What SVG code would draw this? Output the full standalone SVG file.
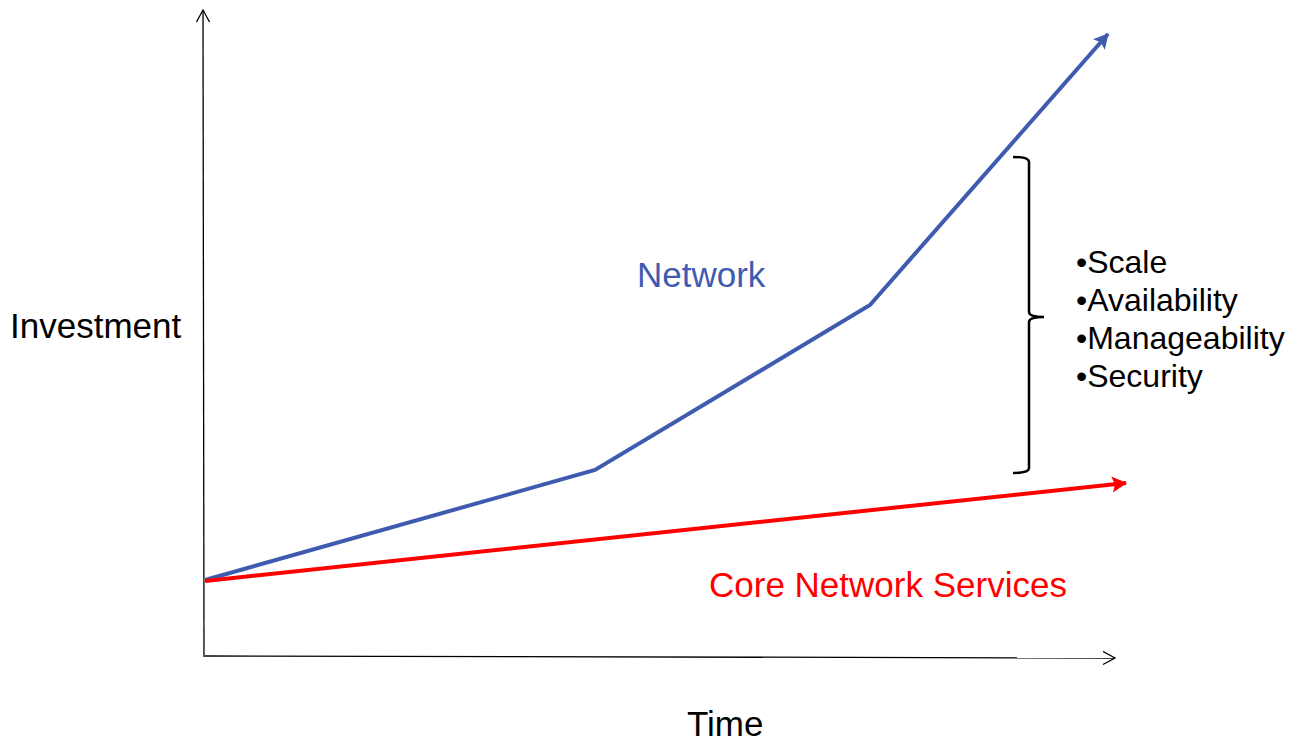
<svg xmlns="http://www.w3.org/2000/svg" width="1298" height="742" viewBox="0 0 1298 742">
<style>
text{font-family:"Liberation Sans",Arial,sans-serif}
.lbl{font-size:35px;fill:#000}
.blt{font-size:32px;fill:#000}
.axis{stroke:#000;stroke-width:1.3;fill:none}
</style>
<defs>
<marker id="openArr" markerWidth="16" markerHeight="16" refX="13" refY="7" orient="auto" markerUnits="userSpaceOnUse">
<path d="M1,0.5 L13,7 L1,13.5" fill="none" stroke="#000" stroke-width="1.3"/>
</marker>
<marker id="blueArr" markerWidth="20" markerHeight="20" refX="14" refY="8" orient="auto" markerUnits="userSpaceOnUse">
<path d="M0,0 L15,8 L0,16 L3,8 Z" fill="#3F5BB0"/>
</marker>
<marker id="redArr" markerWidth="20" markerHeight="20" refX="14" refY="8" orient="auto" markerUnits="userSpaceOnUse">
<path d="M0,0 L15,8 L0,16 L3,8 Z" fill="#FF0000"/>
</marker>
</defs>
<g id="connectors">
<line class="axis" x1="204" y1="657" x2="203" y2="10" marker-end="url(#openArr)"/>
<line class="axis" x1="205" y1="656" x2="1115" y2="658" marker-end="url(#openArr)"/>
<polyline points="205,580 595,470 870,305 1108,34" fill="none" stroke="#3F5BB0" stroke-width="4" stroke-linejoin="miter" marker-end="url(#blueArr)"/>
<line x1="205" y1="581" x2="1126" y2="483" stroke="#FF0000" stroke-width="4" marker-end="url(#redArr)"/>
</g>
<g id="bracket">
<path d="M1013,157 Q1029,157 1029,162 L1029,312 Q1029,317 1044,317 Q1029,317 1029,322 L1029,468 Q1029,473 1013,473" fill="none" stroke="#000" stroke-width="2.5"/>
</g>
<g id="investment"><text class="lbl" x="10" y="338">Investment</text></g>
<g id="time"><text class="lbl" x="687" y="736">Time</text></g>
<g id="network"><text class="lbl" x="637" y="287" style="fill:#3F5BB0">Network</text></g>
<g id="core"><text class="lbl" x="709" y="597" style="fill:#FF0000">Core Network Services</text></g>
<g id="bullets">
<text class="blt" x="1076" y="273">•Scale</text>
<text class="blt" x="1076" y="311">•Availability</text>
<text class="blt" x="1076" y="349">•Manageability</text>
<text class="blt" x="1076" y="387">•Security</text>
</g>
</svg>
